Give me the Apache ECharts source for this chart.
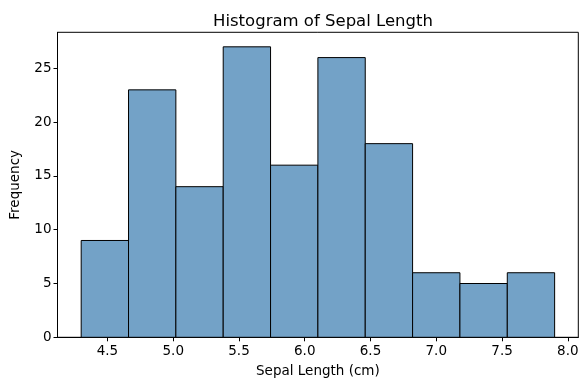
<!DOCTYPE html>
<html><head><meta charset="utf-8">
<script src="https://cdn.jsdelivr.net/npm/echarts@6/dist/echarts.min.js"></script>
<style>html,body{margin:0;padding:0;background:#fff}#c{width:588px;height:390px}</style>
</head><body><div id="c"></div>
<script>
const binEdges = [4.3, 4.66, 5.02, 5.38, 5.74, 6.1, 6.46, 6.82, 7.18, 7.54, 7.9];
const counts = [9, 23, 14, 27, 16, 26, 18, 6, 5, 6];
const xTicks = [4.5, 5.0, 5.5, 6.0, 6.5, 7.0, 7.5, 8.0];
const yTicks = [0, 5, 10, 15, 20, 25];

const data = counts.map((c, i) => [binEdges[i], binEdges[i + 1], c]);
const font = 'DejaVu Sans';
const chart = echarts.init(document.getElementById('c'), null, {renderer: 'canvas'});
chart.setOption({
  animation: false,
  title: {text: 'Histogram of Sepal Length', left: 318, top: 8, textAlign: 'center',
    textStyle: {fontFamily: font, fontSize: 16.5, fontWeight: 'normal', color: '#000'}},
  grid: {left: 57.5, right: 9.7, top: 32.3, bottom: 52.7, show: true, borderColor: '#000', borderWidth: 1, backgroundColor: 'transparent'},
  xAxis: {type: 'value', min: 4.12, max: 8.08,
    name: 'Sepal Length (cm)', nameLocation: 'middle', nameGap: 27,
    nameTextStyle: {fontFamily: font, fontSize: 13.5, color: '#000'},
    splitLine: {show: false}, axisLine: {show: true, lineStyle: {color: '#000'}},
    axisTick: {show: true, length: 4, lineStyle: {color: '#000'}, customValues: xTicks},
    axisLabel: {fontFamily: font, fontSize: 13.5, color: '#000', margin: 7, customValues: xTicks,
      formatter: v => v.toFixed(1)}},
  yAxis: {type: 'value', min: 0, max: 28.35,
    name: 'Frequency', nameLocation: 'middle', nameGap: 35,
    nameTextStyle: {fontFamily: font, fontSize: 13.5, color: '#000'},
    splitLine: {show: false}, axisLine: {show: true, lineStyle: {color: '#000'}},
    axisTick: {show: true, length: 4, lineStyle: {color: '#000'}, customValues: yTicks},
    axisLabel: {fontFamily: font, fontSize: 13.5, color: '#000', margin: 6, customValues: yTicks}},
  series: [{
    type: 'custom',
    data: data,
    encode: {x: [0, 1], y: 2},
    renderItem: function (params, api) {
      const p0 = api.coord([api.value(0), 0]);
      const p1 = api.coord([api.value(1), api.value(2)]);
      return {type: 'rect', shape: {x: p0[0], y: p1[1], width: p1[0] - p0[0], height: p0[1] - p1[1]},
        style: {fill: '#73a2c7', stroke: '#000', lineWidth: 1}};
    }
  }]
});
</script></body></html>
